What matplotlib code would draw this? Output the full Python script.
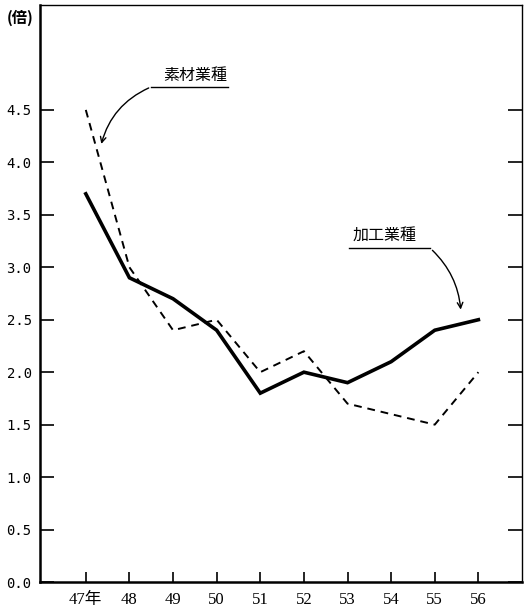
import matplotlib
matplotlib.use("Agg")
import matplotlib.pyplot as plt

# 年度 (昭和)
years = [47, 48, 49, 50, 51, 52, 53, 54, 55, 56]
year_labels = ["47年", "48", "49", "50", "51", "52", "53", "54", "55", "56"]
kakou = [3.7, 2.9, 2.7, 2.4, 1.8, 2.0, 1.9, 2.1, 2.4, 2.5]      # 加工業種
sozai = [4.5, 3.0, 2.4, 2.5, 2.0, 2.2, 1.7, 1.6, 1.5, 2.0]      # 素材業種
y_ticks = [0.0, 0.5, 1.0, 1.5, 2.0, 2.5, 3.0, 3.5, 4.0, 4.5]

jp = ["Noto Sans CJK JP", "DejaVu Sans"]

fig = plt.figure(figsize=(5.3, 6.08), dpi=100)
ax = fig.add_axes([40 / 530, 26 / 608, 482 / 530, 577 / 608])

ax.plot(years, kakou, color="black", linewidth=2.6, solid_joinstyle="miter")
ax.plot(years, sozai, color="black", linewidth=1.4, linestyle=(0, (4, 3)))

ax.set_xlim(45.95, 57.0)
ax.set_ylim(0, 5.5)

ax.set_xticks(years)
ax.set_xticklabels(year_labels, family=["Liberation Serif", "Noto Sans CJK JP"], fontsize=12)
ax.set_yticks(y_ticks)
ax.set_yticklabels(["{:.1f}".format(v) for v in y_ticks], family="DejaVu Sans Mono", fontsize=10)
ax.tick_params(axis="x", direction="in", length=7, width=1.2, pad=7)
ax.tick_params(axis="y", direction="in", length=10, width=1.2, right=True, pad=6)

for side in ["left", "bottom"]:
    ax.spines[side].set_linewidth(1.8)
ax.spines["right"].set_linewidth(1.0)
ax.spines["top"].set_linewidth(1.0)

fig.text(20 / 530, 1 - 18 / 608, "(倍)", family=jp, fontsize=11, fontweight="bold",
         ha="center", va="center")

# 素材業種 label
ax.text(49.5, 4.83, "素材業種", family=jp, fontsize=11.5, ha="center", va="center")
ax.plot([48.5, 50.25], [4.72, 4.72], color="black", linewidth=1.0)
ax.annotate("", xy=(47.34, 4.15), xytext=(48.5, 4.72),
            arrowprops=dict(arrowstyle="->", color="black", lw=1.0,
                            connectionstyle="arc3,rad=0.25"))

# 加工業種 label
ax.text(53.85, 3.3, "加工業種", family=jp, fontsize=11.5, ha="center", va="center")
ax.plot([53.03, 54.9], [3.18, 3.18], color="black", linewidth=1.0)
ax.annotate("", xy=(55.6, 2.57), xytext=(54.9, 3.18),
            arrowprops=dict(arrowstyle="->", color="black", lw=1.0,
                            connectionstyle="arc3,rad=-0.2"))

fig.savefig("out.png", dpi=100)
